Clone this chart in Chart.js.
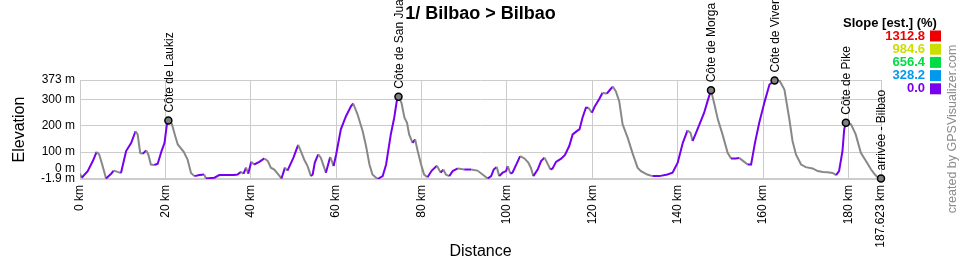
<!DOCTYPE html>
<html>
<head>
<meta charset="utf-8">
<script src="https://cdn.jsdelivr.net/npm/chart.js@4.4.0/dist/chart.umd.min.js"></script>
<style>
  html, body { margin: 0; padding: 0; background: #fff; }
  #wrap { width: 960px; height: 260px; }
</style>
</head>
<body>
<div id="wrap"><canvas id="profile" width="960" height="260"></canvas></div>
<script>
// elevation profile (km / m)
var distKm = [0, 0.4, 1.8, 3.0, 3.9, 4.5, 5.3, 6.1, 7.3, 7.9, 8.8, 9.6, 10.8, 12.0, 13.0, 13.5, 14.1, 14.7, 15.5, 16.0,
  16.6, 17.4, 18.2, 19.1, 19.8, 20.4, 20.7, 21.5, 22.3, 22.9, 24.3, 25.2, 26.0, 26.8, 28.0, 29.1, 29.5, 31.5, 32.6, 34.6,
  36.1, 36.9, 37.7, 38.3, 38.9, 39.4, 40.1, 40.8, 42.0, 43.2, 44.0, 44.7, 45.5, 46.3, 47.2, 48.0, 48.6, 50.0, 51.1, 51.8,
  52.5, 53.3, 54.1, 54.5, 55.0, 55.8, 56.4, 57.2, 57.6, 58.6, 59.0, 59.4, 60.0, 61.1, 62.3, 63.5, 64.0, 65.0, 66.2, 67.0,
  67.8, 68.5, 69.7, 70.9, 71.7, 72.8, 73.6, 74.2, 74.6, 75.3, 76.0, 76.6, 77.1, 77.9, 78.5, 79.1, 79.9, 80.6, 81.4, 82.4,
  83.6, 84.5, 85.1, 85.7, 86.5, 87.3, 88.5, 90.0, 91.6, 93.1, 94.3, 95.5, 96.3, 96.9, 97.6, 98.2, 99.0, 99.8, 100.2, 100.8,
  101.3, 102.4, 103.1, 104.1, 105.0, 105.6, 106.2, 107.2, 108.0, 108.8, 109.4, 110.2, 110.7, 111.5, 112.7, 113.6, 114.6, 115.4, 116.6, 117.0,
  117.7, 118.5, 119.1, 119.9, 120.6, 121.6, 122.4, 123.4, 124.2, 124.8, 125.5, 126.3, 127.1, 128.3, 129.4, 130.6, 131.4, 132.9, 134.1, 135.7,
  137.6, 138.8, 140.0, 141.2, 142.3, 143.0, 143.5, 144.3, 145.1, 146.2, 147.0, 147.8, 148.6, 149.4, 150.5, 151.7, 152.5, 153.6, 154.4, 155.6,
  156.4, 157.2, 158.1, 159.1, 160.4, 161.5, 162.7, 163.3, 163.8, 165.0, 166.1, 166.9, 167.7, 168.9, 170.0, 171.6, 172.8, 174.0, 175.1, 176.3,
  177.1, 177.8, 178.6, 179.0, 179.4, 180.6, 181.7, 182.9, 184.1, 185.3, 186.2, 186.8, 187.623];
var elevM = [18, 3, 28, 66, 101, 91, 47, 0, 18, 30, 25, 21, 104, 135, 179, 167, 97, 94, 106, 91,
  53, 51, 56, 104, 135, 211, 220, 207, 161, 129, 101, 72, 21, 9, 13, 15, 0, 3, 13, 13,
  13, 15, 25, 18, 41, 18, 63, 53, 63, 76, 66, 41, 34, 18, 0, 41, 30, 79, 127, 101,
  72, 47, 9, 15, 60, 91, 79, 41, 22, 81, 66, 47, 91, 186, 236, 274, 284, 243, 180, 123,
  53, 15, -1.9, 9, 53, 167, 230, 293, 310, 287, 230, 211, 167, 135, 148, 104, 53, 15, 5, 30,
  48, 22, 34, 15, 9, 28, 38, 34, 34, 30, 15, 0, 9, 34, 44, 9, 22, 28, 47, 19,
  22, 60, 85, 76, 60, 41, 9, 34, 66, 79, 60, 34, 38, 63, 75, 89, 123, 167, 182, 186,
  230, 268, 268, 249, 274, 300, 325, 321, 337, 348, 331, 293, 205, 154, 97, 41, 28, 15, 9, 9,
  15, 22, 60, 135, 182, 173, 142, 173, 205, 249, 293, 334, 281, 224, 167, 97, 76, 76, 78, 63,
  53, 53, 135, 211, 293, 356, 371, 373, 372, 337, 230, 142, 91, 53, 43, 38, 28, 25, 24, 21,
  13, 28, 104, 186, 211, 205, 167, 97, 66, 34, 15, 5, 0];

// waypoints
var wpNames = ['Côte de Laukiz', 'Côte de San Juan de Gaztelugatxe', 'Côte de Morga', 'Côte de Vivero', 'Côte de Pike', 'arrivée - Bilbao'];
var wpKm = [20.7, 74.6, 147.8, 162.7, 179.4, 187.623];
var wpElev = [220, 310, 334, 371, 211, 0];

// axes
var xTicks = [0, 20, 40, 60, 80, 100, 120, 140, 160, 180, 187.623];
var yTicks = [-1.9, 0, 100, 200, 300, 373];

// slope legend
var slopeLabels = ['1312.8', '984.6', '656.4', '328.2', '0.0'];
var slopeColors = ['#ee0000', '#ccdd00', '#00dd44', '#0099ee', '#7700ee'];

var titleText = '1/ Bilbao > Bilbao';
var fontFam = '"Liberation Sans", Arial, sans-serif';
var downColor = '#888888';

var profilePts = distKm.map(function (d, i) { return { x: d, y: elevM[i] }; });
var wpPts = wpKm.map(function (d, i) { return { x: d, y: wpElev[i] }; });

var overlayPlugin = {
    id: 'overlay',
    afterDraw: function (chart) {
        var ctx = chart.ctx;
        var area = chart.chartArea;
        var ys = chart.scales.y;
        ctx.save();

        // title
        ctx.fillStyle = '#000';
        ctx.font = 'bold 18px ' + fontFam;
        ctx.textAlign = 'center';
        ctx.textBaseline = 'middle';
        ctx.fillText(titleText, (area.left + area.right) / 2, 14);

        // "0 m" label sits just above the -1.9 m one
        ctx.font = '12px ' + fontFam;
        ctx.textAlign = 'right';
        ctx.fillText('0 m', ys.right - 5, ys.getPixelForValue(0) - 10);

        // waypoint names, vertical
        var meta = chart.getDatasetMeta(0);
        ctx.font = '12px ' + fontFam;
        ctx.textAlign = 'left';
        ctx.textBaseline = 'middle';
        meta.data.forEach(function (pt, i) {
            ctx.save();
            ctx.translate(pt.x + 1, pt.y - 8);
            ctx.rotate(-Math.PI / 2);
            ctx.fillText(wpNames[i], 0, 0);
            ctx.restore();
        });

        // slope legend
        ctx.font = 'bold 13px ' + fontFam;
        ctx.textAlign = 'center';
        ctx.fillStyle = '#000';
        ctx.fillText('Slope [est.] (%)', 890, 23);
        ctx.textAlign = 'right';
        slopeLabels.forEach(function (lab, i) {
            var y = 36 + i * 13.2;
            ctx.fillStyle = slopeColors[i];
            ctx.fillText(lab, 925, y);
            ctx.fillRect(930, y - 5.5, 11, 11);
        });

        // credit
        ctx.save();
        ctx.translate(953, 129);
        ctx.rotate(-Math.PI / 2);
        ctx.textAlign = 'center';
        ctx.font = '12.5px ' + fontFam;
        ctx.fillStyle = '#8c8c8c';
        ctx.fillText('created by GPSVisualizer.com', 0, 0);
        ctx.restore();

        ctx.restore();
    }
};

var ctx = document.getElementById('profile').getContext('2d');
var profileChart = new Chart(ctx, {
    type: 'line',
    data: {
        datasets: [{
            label: 'waypoints',
            data: wpPts,
            showLine: false,
            pointRadius: 3.5,
            pointBackgroundColor: '#808080',
            pointBorderColor: '#000',
            pointBorderWidth: 1.5,
            clip: false
        }, {
            label: 'elevation',
            data: profilePts,
            borderWidth: 2,
            pointRadius: 0,
            tension: 0,
            borderColor: slopeColors[4],
            segment: {
                borderColor: function (c) {
                    return c.p1.parsed.y >= c.p0.parsed.y ? slopeColors[4] : downColor;
                }
            }
        }]
    },
    options: {
        responsive: false,
        animation: false,
        layout: { padding: { top: 80, right: 79, bottom: 0, left: 0 } },
        plugins: { legend: { display: false }, tooltip: { enabled: false } },
        scales: {
            x: {
                type: 'linear',
                min: 0,
                max: 187.623,
                afterBuildTicks: function (s) { s.ticks = xTicks.map(function (v) { return { value: v }; }); },
                afterFit: function (s) { s.height = 81; },
                border: { display: false },
                grid: { color: '#cccccc', drawTicks: false },
                ticks: {
                    autoSkip: false,
                    minRotation: 90,
                    maxRotation: 90,
                    padding: 6,
                    color: '#000',
                    font: { family: fontFam, size: 12 },
                    callback: function (v) { return v + ' km'; }
                },
                title: {
                    display: true,
                    text: 'Distance',
                    color: '#000',
                    font: { family: fontFam, size: 16, lineHeight: 1 },
                    padding: { top: 0, bottom: 0 }
                }
            },
            y: {
                min: -1.9,
                max: 373,
                afterBuildTicks: function (s) { s.ticks = yTicks.map(function (v) { return { value: v }; }); },
                afterFit: function (s) { s.width = 80; },
                border: { display: false },
                grid: {
                    color: '#cccccc',
                    drawTicks: false,
                    lineWidth: function (c) { return c.tick && c.tick.value === -1.9 ? 2 : 1; }
                },
                ticks: {
                    autoSkip: false,
                    padding: 5,
                    color: '#000',
                    font: { family: fontFam, size: 12 },
                    callback: function (v) { return v === 0 ? '' : v + ' m'; }
                },
                title: {
                    display: true,
                    text: 'Elevation',
                    color: '#000',
                    font: { family: fontFam, size: 16, lineHeight: 1 },
                    padding: { top: 12, bottom: 0 }
                }
            }
        }
    },
    plugins: [overlayPlugin]
});
</script>
</body>
</html>
